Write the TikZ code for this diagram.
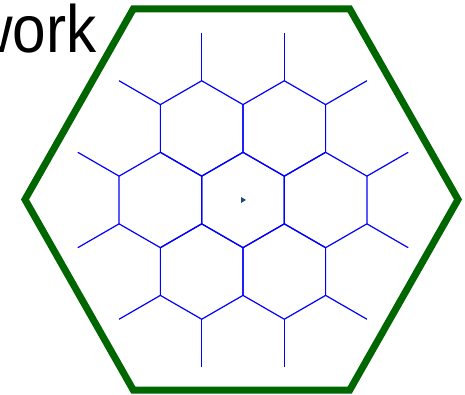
\documentclass[tikz,border=0pt]{standalone}
\usepackage{fontspec}
\setmainfont{Liberation Sans}
\usetikzlibrary{%
    calc,%
    positioning
    }
\definecolor{mygreen1}{RGB}{0,102,0}
\definecolor{myblue1}{RGB}{0,0,255}
\definecolor{mynavy1}{RGB}{31,73,125}
\tikzset{
  frame2/.style={
    draw=mygreen1,
    line width=7pt,
    miter limit=10,
  },
  cell2/.style={
    draw=myblue1,
    line width=1.2pt,
  },
  title2/.style={
    anchor=base west,
    inner sep=0pt,
    xscale=0.9,
    font=\fontsize{67}{80}\selectfont,
  },
  tip2/.style={
    fill=mynavy1,
  },
}

\begin{document}
\begin{tikzpicture}[x=1pt,y=1pt]
\useasboundingbox (0,0) rectangle (465,395);
\def\side{47.7}
\def\gap{82.6}
\coordinate (mid) at (243,195);
\coordinate (outer) at (241.5,195.5);

\node[title2] 
  (title) 
  at (-31,342)
  {work};

% big frame
\draw[frame2]
  (outer) +(0:216.5 and 220) -- +(60:216.5 and 220)
  -- +(120:216.5 and 220) -- +(180:216.5 and 220)
  -- +(240:216.5 and 220) -- +(300:216.5 and 220) -- cycle;

% ring of cells round the middle one
\foreach \a [count=\i] in {0,60,...,300}
  \coordinate (cell\i) at ($(mid)+(\a:\gap)$);

\begin{scope}[cell2]
\foreach \c in {mid,cell1,cell2,cell3,cell4,cell5,cell6}
  \draw
    (\c) +(90:\side) -- +(150:\side) -- +(210:\side)
    -- +(270:\side) -- +(330:\side) -- +(30:\side) -- cycle;
\foreach \a [count=\i] in {0,60,...,300}
  \foreach \d in {-30,30}
    \draw
      ($(cell\i)+(\a+\d:\side)$) --  ($(cell\i)+(\a+\d:2*\side)$);
\end{scope}

\fill[tip2] (241,198) -- (246,195) -- (241,192) -- cycle;
\end{tikzpicture}
\end{document}
